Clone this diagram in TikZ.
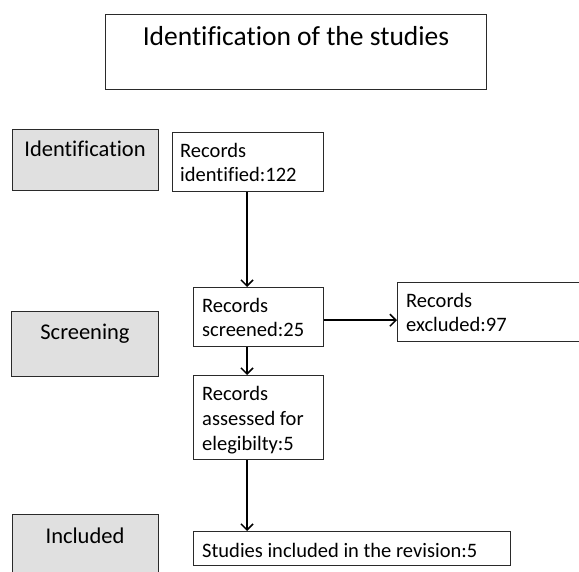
\documentclass[tikz,border=0pt]{standalone}
\usepackage{fontspec}
\setmainfont{Carlito}[Ligatures=NoCommon]
\usetikzlibrary{arrows.meta}
\definecolor{boxgray}{HTML}{E0E0E0}
\definecolor{edge}{HTML}{2A2A2A}
\tikzset{
  box/.style={draw=edge, line width=1.4pt, fill=white, anchor=north west, inner sep=0pt},
  stagebox/.style={draw=edge, line width=1.4pt, fill=boxgray, anchor=north west, inner sep=0pt},
  txt/.style={anchor=base west, align=left, inner sep=0pt, font=\fontsize{20.5}{24.6}\selectfont},
  stagetxt/.style={anchor=base, inner sep=0pt, font=\fontsize{22.5}{26}\selectfont},
  arr/.style={line width=1.5pt, -{Straight Barb[length=6pt,width=12pt,line width=1.5pt]}}
}
\begin{document}
\begin{tikzpicture}[x=1pt,y=-1pt]
\useasboundingbox (0,0) rectangle (579,572);
\clip (0,0) rectangle (579,572);
% title
\node[box, minimum width=381pt, minimum height=75pt] (title) at (105,14) {};
\node[anchor=base, inner sep=0pt, font=\fontsize{27.5}{32}\selectfont] (titletxt) at (296,46) {Identification of the studies};
% stage boxes
\node[stagebox, minimum width=146pt, minimum height=61pt] (sid) at (12,129) {};
\node[stagetxt] (sidtxt) at (85,157) {Identification};
\node[stagebox, minimum width=147pt, minimum height=65pt] (sscr) at (11,311) {};
\node[stagetxt] (sscrtxt) at (85,340) {Screening};
\node[stagebox, minimum width=146pt, minimum height=80pt] (sinc) at (12,514) {};
\node[stagetxt] (sinctxt) at (85,543) {Included};
% flow boxes
\node[box, minimum width=151pt, minimum height=59pt] (ident) at (172,132) {};
\node[txt] (identtxt) at (180,182) {Records\\identified:122};
\node[box, minimum width=130pt, minimum height=59pt] (scr) at (193,287) {};
\node[txt] (scrtxt) at (202,337) {Records\\screened:25};
\node[box, minimum width=200pt, minimum height=59pt] (exc) at (397,282) {};
\node[txt] (exctxt) at (406,332) {Records\\excluded:97};
\node[box, minimum width=130pt, minimum height=84pt] (ass) at (193,375) {};
\node[txt] (asstxt) at (202,450) {Records\\assessed for\\elegibilty:5};
\node[box, minimum width=317pt, minimum height=34pt] (inc) at (193,531) {};
\node[txt] (inctxt) at (202,557) {Studies included in the revision:5};
% arrows
\coordinate (ax) at (247,0);
\draw[arr] (ident.south -| ax) -- (scr.north -| ax);
\draw[arr] ([yshift=-3pt]scr.east) -- ([yshift=-3pt]scr.east -| exc.west);
\draw[arr] (scr.south -| ax) -- (ass.north -| ax);
\draw[arr] (ass.south -| ax) -- (inc.north -| ax);
\end{tikzpicture}
\end{document}
